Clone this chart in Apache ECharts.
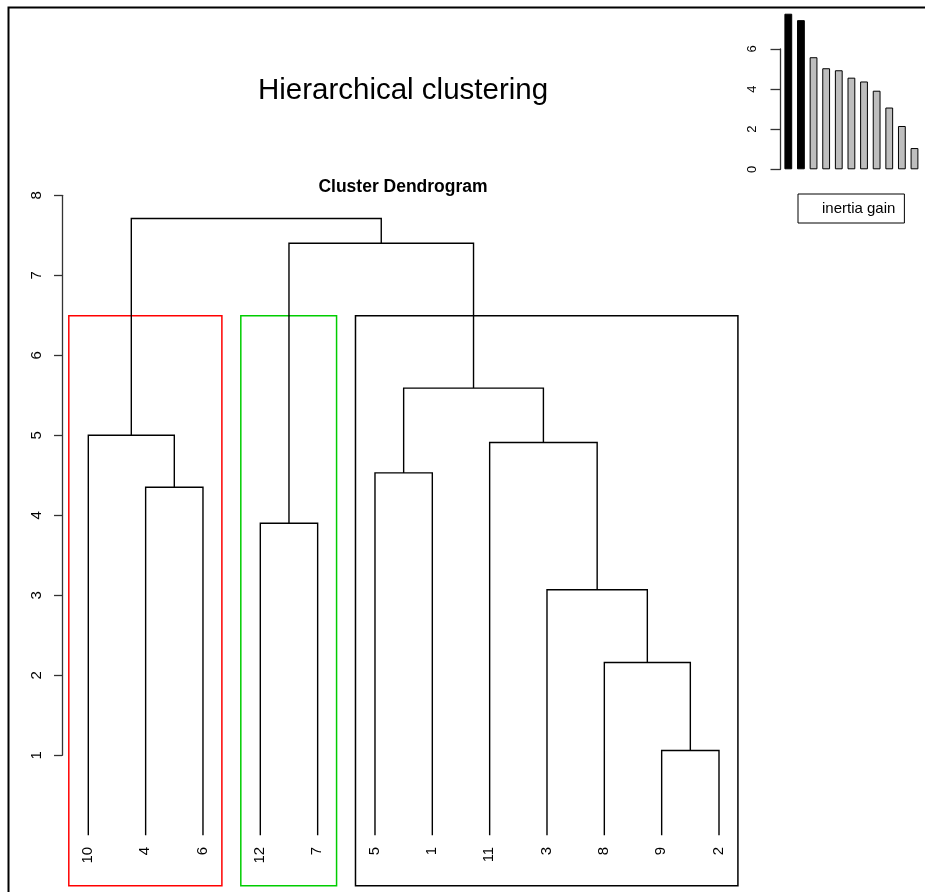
<!DOCTYPE html>
<html>
<head>
<meta charset="utf-8">
<script src="https://cdn.jsdelivr.net/npm/echarts@6/dist/echarts.min.js"></script>
<style>
html,body{margin:0;padding:0;background:#fff;}
#chart{width:925px;height:892px;}
</style>
</head>
<body>
<div id="chart"></div>
<script>
// ---------- data ----------
const leafOrder = ['10', '4', '6', '12', '7', '5', '1', '11', '3', '8', '9', '2'];
// R-style merge matrix: negative = observation label, positive = earlier merge step
const mergeLeft = [-9, -8, -3, -12, -4, -5, -11, -10, 6, 4, 8];
const mergeRight = [-2, 1, 2, -7, -6, -1, 3, 5, 7, 9, 10];
const mergeHeight = [1.06, 2.16, 3.07, 3.90, 4.35, 4.53, 4.91, 5.00, 5.59, 7.40, 7.71];
const clusterSizes = [3, 2, 7];
const clusterColors = ['#ff0000', '#00cd00', '#000000'];
const dendroTicks = [1, 2, 3, 4, 5, 6, 7, 8];
const gainValues = [7.76, 7.44, 5.59, 5.04, 4.94, 4.57, 4.38, 3.92, 3.08, 2.16, 1.06];
const gainTicks = [0, 2, 4, 6];
const titleText = 'Hierarchical clustering';
const subTitleText = 'Cluster Dendrogram';
const legendText = 'inertia gain';

// ---------- derived structures ----------
const FONT = '"Liberation Sans", Arial, Helvetica, sans-serif';
const leafPos = {};
leafOrder.forEach((l, i) => { leafPos[l] = i + 1; });
const nodeX = [], nodeH = [];
function childInfo(c) {
  if (c < 0) return [leafPos[String(-c)], 0];
  return [nodeX[c - 1], nodeH[c - 1]];
}
const linkData = [];
for (let i = 0; i < mergeLeft.length; i++) {
  const a = childInfo(mergeLeft[i]);
  const b = childInfo(mergeRight[i]);
  const xl = a[0] <= b[0] ? a : b;
  const xr = xl === a ? b : a;
  nodeX.push((a[0] + b[0]) / 2);
  nodeH.push(mergeHeight[i]);
  linkData.push([xl[0], xl[1], xr[0], xr[1], mergeHeight[i]]);
}
const k = clusterSizes.length;
const sortedH = mergeHeight.slice().sort((p, q) => q - p);
const cutTop = (sortedH[k - 2] + sortedH[k - 1]) / 2;
const rectBottom = -0.63;
const rectData = [];
let start = 0;
clusterSizes.forEach((s, i) => {
  rectData.push([start + 0.66, start + s + 0.33, cutTop, rectBottom, i]);
  start += s;
});
const leafData = leafOrder.map((l, i) => [i + 1, 0, l]);

// ---------- chart ----------
const chart = echarts.init(document.getElementById('chart'), null, { renderer: 'canvas' });
const option = {
  backgroundColor: '#ffffff',
  animation: false,
  textStyle: { fontFamily: FONT },
  grid: [
    { left: 88.3, top: 195.3, width: 630.7, height: 560, containLabel: false },
    { left: 782, top: 49, width: 138.8, height: 120.3, containLabel: false }
  ],
  xAxis: [
    { gridIndex: 0, type: 'value', min: 1, max: 12, show: false },
    { gridIndex: 1, type: 'category', data: gainValues.map((v, i) => String(i + 1)), show: false, boundaryGap: true }
  ],
  yAxis: [
    {
      gridIndex: 0, type: 'value', min: dendroTicks[0], max: dendroTicks[dendroTicks.length - 1], interval: 1,
      offset: 26.3,
      axisLine: { show: true, lineStyle: { color: '#333', width: 1.3 } },
      axisTick: { show: true, length: 8, inside: false, lineStyle: { color: '#333', width: 1.3 } },
      axisLabel: { rotate: 90, margin: 18, fontSize: 15, color: '#000', fontFamily: FONT },
      splitLine: { show: false }
    },
    {
      gridIndex: 1, type: 'value', min: gainTicks[0], max: gainTicks[gainTicks.length - 1], interval: 2,
      offset: 1.5,
      axisLine: { show: true, lineStyle: { color: '#333', width: 1.3 } },
      axisTick: { show: true, length: 10, inside: false, lineStyle: { color: '#333', width: 1.3 } },
      axisLabel: { rotate: 90, margin: 22, fontSize: 13, color: '#000', fontFamily: FONT },
      splitLine: { show: false }
    }
  ],
  legend: {
    data: [{ name: legendText, icon: 'rect', itemStyle: { opacity: 0 } }],
    left: 798, top: 194,
    orient: 'vertical',
    itemWidth: 14, itemHeight: 10,
    padding: [7, 9, 7, 5],
    borderColor: '#000', borderWidth: 1,
    selectedMode: false,
    textStyle: { fontSize: 15, color: '#000', fontFamily: FONT }
  },
  series: [
    {
      type: 'custom', name: 'clusters', xAxisIndex: 0, yAxisIndex: 0, clip: false, silent: true, z: 1,
      data: rectData,
      renderItem: function (params, api) {
        const p0 = api.coord([api.value(0), api.value(2)]);
        const p1 = api.coord([api.value(1), api.value(3)]);
        const col = clusterColors[api.value(4)];
        return {
          type: 'rect',
          shape: { x: p0[0], y: p0[1], width: p1[0] - p0[0], height: p1[1] - p0[1] },
          style: { fill: null, stroke: col, lineWidth: 1.5 }
        };
      }
    },
    {
      type: 'custom', name: 'dendrogram', xAxisIndex: 0, yAxisIndex: 0, clip: false, silent: true, z: 2,
      data: linkData,
      renderItem: function (params, api) {
        const xl = api.value(0), hl = api.value(1), xr = api.value(2), hr = api.value(3), h = api.value(4);
        const pts = [api.coord([xl, hl]), api.coord([xl, h]), api.coord([xr, h]), api.coord([xr, hr])];
        return {
          type: 'polyline',
          shape: { points: pts },
          style: { fill: null, stroke: '#000', lineWidth: 1.4 }
        };
      }
    },
    {
      type: 'custom', name: 'leaves', xAxisIndex: 0, yAxisIndex: 0, clip: false, silent: true, z: 3,
      data: leafData,
      renderItem: function (params, api) {
        const p = api.coord([api.value(0), api.value(1)]);
        return {
          type: 'text',
          x: p[0] - 0.5, y: p[1] + 11.5,
          rotation: Math.PI / 2,
          style: {
            text: leafOrder[params.dataIndex],
            textAlign: 'right', textVerticalAlign: 'middle',
            font: '15px ' + FONT, fill: '#000'
          }
        };
      }
    },
    {
      type: 'bar', name: legendText, xAxisIndex: 1, yAxisIndex: 1, clip: false, silent: true,
      barWidth: 7.8,
      data: gainValues.map((v, i) => ({
        value: v,
        itemStyle: { color: i < k - 1 ? '#000000' : '#bebebe', borderColor: '#000', borderWidth: 1 }
      }))
    }
  ],
  graphic: [
    {
      type: 'rect', silent: true,
      shape: { x: 8.5, y: 7.5, width: 1200, height: 1200 },
      style: { fill: null, stroke: '#000', lineWidth: 2 }
    },
    {
      type: 'text', silent: true, x: 403, y: 91,
      style: { text: titleText, textAlign: 'center', textVerticalAlign: 'middle', font: '29.5px ' + FONT, fill: '#000' }
    },
    {
      type: 'text', silent: true, x: 403, y: 187.5,
      style: { text: subTitleText, textAlign: 'center', textVerticalAlign: 'middle', font: 'bold 17.5px ' + FONT, fill: '#000' }
    }
  ]
};
chart.setOption(option);
</script>
</body>
</html>
